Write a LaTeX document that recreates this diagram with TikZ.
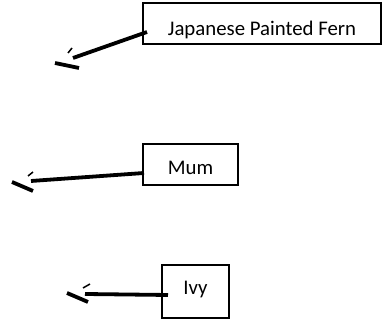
\documentclass[tikz,border=0pt]{standalone}
\usepackage{fontspec}
\setmainfont{Carlito}
\begin{document}
\begin{tikzpicture}[x=1pt,y=-1pt,
  box/.style={draw,line width=1.4pt,inner sep=0pt,text depth=0pt,font=\fontsize{20.8}{24}\selectfont},
  conn/.style={line width=3.8pt},
  barbthin/.style={line width=1.5pt},
  barbthick/.style={line width=3.8pt}]
\useasboundingbox (0,0) rectangle (384,328);
\node[box,minimum width=238pt,minimum height=41pt,text height=24.8pt] (b1) at (262,23.5) {Japanese Painted Fern};
\node[box,minimum width=95pt,minimum height=41pt,text height=21pt] (b2) at (190.5,164.5) {Mum};
\node[box,minimum width=67pt,minimum height=53pt,text height=7pt] (b3) at (195.5,291.5) {Ivy};
% free ends
\coordinate (s1) at (147,32);  \coordinate (e1) at (73,58);
\coordinate (s2) at (144,173); \coordinate (e2) at (31,181);
\coordinate (s3) at (168,295); \coordinate (e3) at (85,294);
\draw[conn] (s1) -- (e1);
\draw[conn] (s2) -- (e2);
\draw[conn] (s3) -- (e3);
% arrowheads
\draw[barbthin] (68,53) -- (72,48);
\draw[barbthick] (55,63) -- (79,68);
\draw[barbthin] (28,176) -- (33,172);
\draw[barbthick] (12,182) -- (33,191);
\draw[barbthin] (83,288) -- (90,284);
\draw[barbthick] (67,293) -- (88,302);
\end{tikzpicture}
\end{document}
